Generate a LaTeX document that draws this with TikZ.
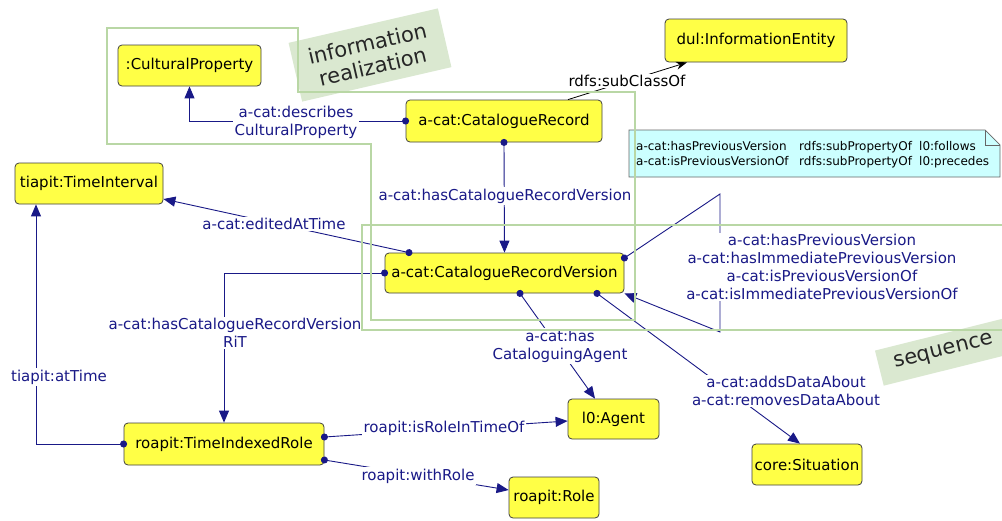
\documentclass[tikz,border=0pt]{standalone}
\usepackage{fontspec}
\setmainfont{DejaVu Sans}
\usetikzlibrary{arrows.meta,calc}
\definecolor{nodey}{RGB}{255,255,70}
\definecolor{navyc}{RGB}{25,25,135}
\definecolor{framec}{RGB}{185,215,165}
\definecolor{grpbg}{RGB}{218,232,208}
\definecolor{notec}{RGB}{204,255,255}
\begin{document}
\begin{tikzpicture}[x=1pt,y=-1pt,
  cls/.style={draw=black!75, fill=nodey, rounded corners=4pt, line width=0.8pt,
    font=\fontsize{15}{18}\selectfont, inner sep=0pt, align=center},
  rel/.style={draw=navyc, line width=0.9pt,
    {Circle[length=7pt]}-{Triangle[length=12pt,width=10pt]}, shorten <=-3.5pt},
  lbl/.style={text=navyc, font=\fontsize{15}{18}\selectfont, fill=white,
    inner sep=1.5pt, align=center},
  grp/.style={fill=grpbg, font=\fontsize{21}{24}\selectfont, align=center,
    inner xsep=16pt, inner ysep=10pt, text=black!85},
  notetxt/.style={anchor=base west, font=\fontsize{12}{15}\selectfont, inner sep=0pt},
  frame/.style={draw=framec, line width=1.3pt}]
\useasboundingbox (0,0) rectangle (1002,520);
\clip (0,0) rectangle (1002,520);
\fill[white] (0,0) rectangle (1002,520);

% group labels
\node[grp, rotate=13] (g1) at (370,55) {information\\realization};
\node[grp, rotate=14] (g2) at (944,352) {sequence};

% classes
\node[cls, minimum width=143pt, minimum height=41pt] (cp) at (189.5,65.5) {:CulturalProperty};
\node[cls, minimum width=182pt, minimum height=43pt] (ie) at (756,40.5) {dul:InformationEntity};
\node[cls, minimum width=196pt, minimum height=42pt] (cr) at (504,121) {a-cat:CatalogueRecord};
\node[cls, minimum width=148pt, minimum height=41pt] (ti) at (89,183.5) {tiapit:TimeInterval};
\node[cls, minimum width=239pt, minimum height=40pt] (crv) at (504.5,273) {a-cat:CatalogueRecordVersion};
\node[cls, minimum width=200pt, minimum height=42pt] (tir) at (224,444) {roapit:TimeIndexedRole};
\node[cls, minimum width=91pt, minimum height=40pt] (ag) at (613.5,419) {l0:Agent};
\node[cls, minimum width=110pt, minimum height=41pt] (sit) at (807,464.5) {core:Situation};
\node[cls, minimum width=90pt, minimum height=41pt] (role) at (554,497.5) {roapit:Role};

% note
\draw[draw=black!60, fill=notec, line width=0.7pt] (629,130) -- (985,130) -- (1000,145) -- (1000,177) -- (629,177) -- cycle;
\draw[black!60, line width=0.7pt] (985,130) -- (985,145) -- (1000,145);
\node[notetxt] (n11) at (636,150.5) {a-cat:hasPreviousVersion};
\node[notetxt] (n12) at (799,150.5) {rdfs:subPropertyOf};
\node[notetxt] (n13) at (919,150.5) {l0:follows};
\node[notetxt] (n21) at (636,165.5) {a-cat:isPreviousVersionOf};
\node[notetxt] (n22) at (799,165.5) {rdfs:subPropertyOf};
\node[notetxt] (n23) at (919,165.5) {l0:precedes};

% connectors
\draw[rel] (cr.west) -| (cp.south);
\node[lbl] (l1) at (296,122) {a-cat:describes\\CulturalProperty};

\draw[black, line width=0.8pt, -{Stealth[length=11pt,width=8pt]}] ([xshift=64pt]cr.north) -- ([xshift=-69pt]ie.south);
\node[lbl, text=black] (l2) at (627,81) {rdfs:subClassOf};

\draw[rel] (cr.south) -- (crv.north);
\node[lbl] (l3) at (505,196) {a-cat:hasCatalogueRecordVersion};

\draw[rel] ([xshift=-95.5pt]crv.north) -- ([yshift=-15.5pt]ti.east);
\node[lbl] (l4) at (274,224) {a-cat:editedAtTime};

\draw[rel] (crv.west) -| (tir.north);
\node[lbl] (l5) at (235,333) {a-cat:hasCatalogueRecordVersion\\RiT};

\draw[rel] (tir.west) -| ([xshift=-53pt]ti.south);
\node[lbl] (l6) at (59,377) {tiapit:atTime};

\draw[rel] ([yshift=7pt]tir.east) -- ([yshift=-2pt]ag.west);
\node[lbl] (l7) at (444,428) {roapit:isRoleInTimeOf};

\draw[rel] ([yshift=-16pt]tir.east) -- ([yshift=7.5pt]role.west);
\node[lbl] (l8) at (418,476) {roapit:withRole};

\draw[rel] ([xshift=15.5pt]crv.south) -- ([xshift=-18.5pt]ag.north);
\node[lbl] (l9) at (560,346) {a-cat:has\\CataloguingAgent};

\draw[rel] ([xshift=92.5pt]crv.south) -- ([xshift=-7pt]sit.north);
\node[lbl] (l10) at (786,391) {a-cat:addsDataAbout\\a-cat:removesDataAbout};

\coordinate (lt) at (720,194);
\coordinate (lb) at (720,332);
\draw[rel] ([yshift=15pt]crv.east) -- (lt) -- (lb) -- (crv.south east);
\node[lbl] (l11) at (822,267) {a-cat:hasPreviousVersion\\a-cat:hasImmediatePreviousVersion\\a-cat:isPreviousVersionOf\\a-cat:isImmediatePreviousVersionOf};

% frames
\draw[frame] (107,28) -- (298,28) -- (298,92) -- (635,92) -- (635,320) -- (371,320) -- (371,144) -- (107,144) -- cycle;
\draw[frame] (1010,225) -- (362,225) -- (362,330) -- (1010,330);
\end{tikzpicture}
\end{document}
